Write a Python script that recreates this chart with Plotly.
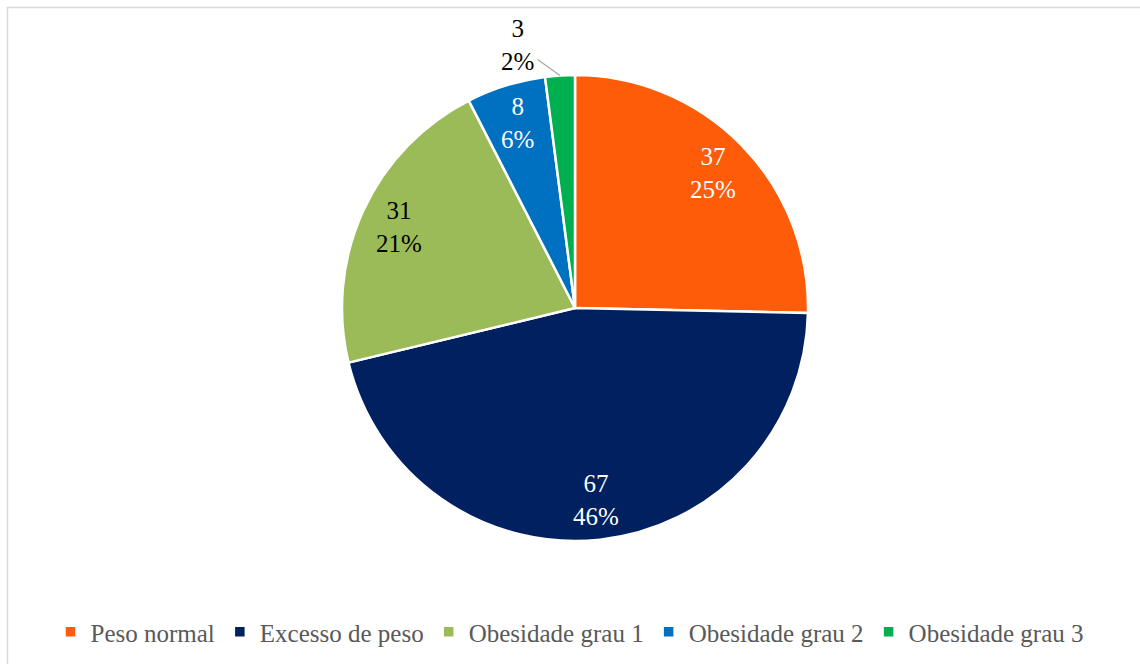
import math
import plotly.graph_objects as go

# Distribuição por categoria de IMC
categorias = ["Peso normal", "Excesso de peso", "Obesidade grau 1", "Obesidade grau 2", "Obesidade grau 3"]
valores = [37, 67, 31, 8, 3]
percentuais = ["25%", "46%", "21%", "6%", "2%"]
cores = ["#FF5C0A", "#002060", "#9BBB59", "#0070C0", "#00B050"]
cores_texto = ["white", "white", "black", "white", "black"]
rotulo_externo = [False, False, False, False, True]

W, H = 1140, 664
FONTE = "Liberation Serif"

# Pie geometry in pixels (paper = pixels since margins are zero)
CX, CY, R = 575, 308, 233
dom_x = [(CX - R) / W, (CX + R) / W]
dom_y = [(H - CY - R) / H, (H - CY + R) / H]

fig = go.Figure(
    go.Pie(
        labels=categorias,
        values=valores,
        textinfo="none",
        marker=dict(colors=cores, line=dict(color="white", width=2.5)),
        sort=False,
        direction="clockwise",
        rotation=0,
        hoverinfo="label+value+percent",
        domain=dict(x=dom_x, y=dom_y),
    )
)


def ponto_no_raio(frac, raio):
    """Paper coordinates of a point at angle `frac` of a turn (clockwise from top)."""
    ang = 2 * math.pi * frac
    px = CX + raio * math.sin(ang)
    py = CY - raio * math.cos(ang)
    return px / W, (H - py) / H


# Data labels: value and percentage placed at the middle angle of each slice
anotacoes = []
total = sum(valores)
acumulado = 0
for v, p, cor, externo in zip(valores, percentuais, cores_texto, rotulo_externo):
    meio = (acumulado + v / 2) / total
    acumulado += v
    texto = f"{v}<br>{p}"
    if externo:
        x, y = ponto_no_raio(meio, R)
        anotacoes.append(dict(
            x=x, y=y, xref="paper", yref="paper", text=texto,
            showarrow=True, arrowhead=0, arrowwidth=1.2, arrowcolor="#A6A6A6",
            ax=-42, ay=-30, standoff=0, startstandoff=2,
            font=dict(family=FONTE, size=25, color=cor),
        ))
    else:
        x, y = ponto_no_raio(meio, 0.83 * R)
        anotacoes.append(dict(
            x=x, y=y, xref="paper", yref="paper", text=texto,
            showarrow=False, xanchor="center", yanchor="middle",
            font=dict(family=FONTE, size=25, color=cor),
        ))

fig.update_layout(
    width=W,
    height=H,
    margin=dict(l=0, r=0, t=0, b=0),
    paper_bgcolor="white",
    plot_bgcolor="white",
    font=dict(family=FONTE, size=25, color="#595959"),
    annotations=anotacoes,
    legend=dict(
        orientation="h",
        x=0.5,
        xanchor="center",
        y=32 / H,
        yanchor="middle",
        font=dict(family=FONTE, size=25, color="#595959"),
        itemwidth=30,
        tracegroupgap=0,
    ),
    shapes=[
        dict(
            type="rect", xref="paper", yref="paper",
            x0=7.5 / W, x1=1.01, y0=-0.01, y1=1 - 7.5 / H,
            line=dict(color="#D9D9D9", width=1.5),
        )
    ],
)

fig.write_html("out.html")
